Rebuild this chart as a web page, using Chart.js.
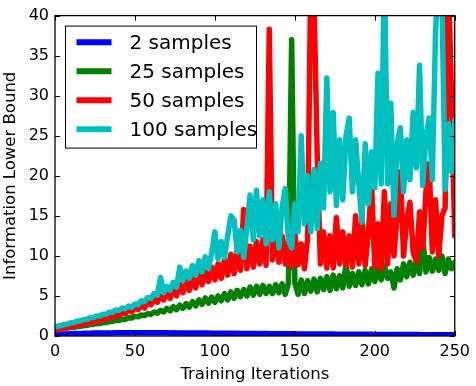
<!DOCTYPE html>
<html><head><meta charset="utf-8">
<script src="https://cdn.jsdelivr.net/npm/chart.js@4/dist/chart.umd.min.js"></script>
<style>html,body{margin:0;padding:0;background:#fff}#wrap{width:476px;height:386px}</style>
</head><body><div id="wrap"><canvas id="c" width="476" height="386"></canvas></div>
<script>
const iterations = [0,2,4,6,8,10,12,14,16,18,20,22,24,26,28,30,32,34,36,38,40,42,44,46,48,50,52,54,56,58,60,62,64,66,68,70,72,74,76,78,80,82,84,86,88,90,92,94,96,98,100,102,104,106,108,110,112,114,116,118,120,122,124,126,128,130,132,134,136,138,140,142,144,146,148,150,152,154,156,158,160,162,164,166,168,170,172,174,176,178,180,182,184,186,188,190,192,194,196,198,200,202,204,206,208,210,212,214,216,218,220,222,224,226,228,230,232,234,236,238,240,242,244,246,248,250];
const seriesLabels = ['2 samples','25 samples','50 samples','100 samples'];
const s2 = [0.18,0.20,0.22,0.24,0.26,0.28,0.30,0.31,0.32,0.33,
 0.34,0.35,0.36,0.37,0.37,0.38,0.38,0.39,0.39,0.40,
 0.40,0.40,0.41,0.41,0.41,0.42,0.41,0.42,0.41,0.42,
 0.41,0.41,0.40,0.41,0.40,0.40,0.39,0.40,0.39,0.39,
 0.38,0.38,0.38,0.37,0.37,0.37,0.36,0.36,0.36,0.35,
 0.35,0.35,0.34,0.34,0.34,0.33,0.33,0.33,0.32,0.32,
 0.32,0.31,0.31,0.31,0.30,0.30,0.30,0.29,0.29,0.29,
 0.28,0.28,0.28,0.27,0.27,0.27,0.26,0.26,0.26,0.26,
 0.25,0.25,0.25,0.25,0.24,0.24,0.24,0.24,0.23,0.23,
 0.23,0.23,0.22,0.22,0.22,0.22,0.21,0.21,0.21,0.21,
 0.20,0.20,0.20,0.20,0.20,0.19,0.19,0.19,0.19,0.19,
 0.18,0.18,0.18,0.18,0.18,0.17,0.17,0.17,0.17,0.17,
 0.16,0.16,0.16,0.16,0.16,0.15];
const s25 = [0.80,0.88,0.90,0.98,1.00,1.08,1.10,1.18,1.22,1.30,
 1.32,1.42,1.44,1.55,1.56,1.66,1.68,1.80,1.82,1.94,
 1.95,2.10,2.10,2.28,2.25,2.45,2.40,2.62,2.55,2.80,
 2.70,3.00,2.85,3.20,3.00,3.45,3.15,3.65,3.30,3.85,
 3.45,4.05,3.60,4.30,3.75,4.50,3.95,4.75,4.10,4.85,
 4.20,5.00,4.40,5.30,4.50,5.50,4.70,5.70,4.90,5.80,
 5.00,6.10,5.10,6.20,5.20,6.30,5.30,6.20,5.30,6.40,
 5.40,6.50,5.20,6.60,37.0,6.60,5.20,7.00,5.30,6.90,
 5.60,7.10,5.50,7.20,5.80,7.40,5.70,7.60,5.90,7.50,
 6.00,9.00,6.20,7.80,6.30,8.00,6.40,8.20,6.50,8.40,
 6.80,8.60,7.00,8.80,7.20,8.00,6.00,8.40,7.00,9.00,
 7.40,9.20,7.60,9.40,7.80,12.3,8.00,9.80,8.10,9.60,
 8.20,10.0,7.80,9.60,8.40,9.20];
const s50 = [0.70,0.85,0.90,1.05,1.05,1.20,1.22,1.35,1.40,1.52,
 1.55,1.70,1.72,1.90,1.90,2.10,2.08,2.35,2.30,2.60,
 2.55,2.90,2.80,3.30,3.00,3.60,3.30,3.90,3.50,4.30,
 3.90,4.60,4.20,5.00,4.50,5.60,4.70,6.00,5.00,6.40,
 5.40,6.80,5.70,7.30,6.00,7.80,6.40,8.30,6.80,8.60,
 7.00,9.00,7.20,9.60,7.60,10.2,7.80,10.8,8.20,15.8,
 8.40,11.2,8.60,11.8,9.00,12.0,8.80,38.3,9.50,13.0,
 9.20,12.5,9.00,12.0,8.60,12.8,8.90,11.5,8.40,12.2,
 46.0,42.0,22.5,9.00,13.0,8.50,12.5,8.50,14.8,9.00,
 13.0,8.80,12.5,8.60,15.0,9.00,14.5,8.80,13.0,19.0,
 8.60,14.0,8.40,18.0,9.00,16.5,10.0,15.0,20.5,10.0,
 14.5,16.7,10.5,9.30,15.5,11.0,18.0,21.5,10.5,17.0,
 10.0,15.0,16.0,45.0,30.0,12.5];
const s100 = [1.10,1.25,1.30,1.45,1.50,1.65,1.70,1.85,1.90,2.05,
 2.10,2.28,2.30,2.50,2.50,2.72,2.72,2.98,2.95,3.25,
 3.20,3.50,3.40,3.75,3.60,4.00,3.90,4.40,4.30,4.80,
 4.70,5.30,5.10,7.30,5.40,6.20,5.70,6.70,6.10,8.60,
 6.90,8.10,7.20,8.80,7.60,9.40,8.00,9.90,8.40,10.4,
 13.0,9.60,11.8,9.80,12.5,15.0,14.5,10.5,13.2,9.80,
 13.5,17.6,12.0,18.2,12.5,17.0,11.5,18.0,12.0,16.5,
 11.0,16.0,18.4,12.0,11.0,16.5,13.0,25.0,14.0,20.0,
 13.0,20.8,13.4,21.5,16.0,32.2,18.0,27.9,16.3,24.5,
 17.0,25.0,27.2,18.0,24.5,19.0,14.2,24.0,16.5,23.0,
 18.5,32.8,19.0,46.0,19.0,29.1,15.1,24.0,26.0,18.0,
 24.5,19.5,27.9,21.0,33.8,18.8,25.0,27.2,19.5,38.0,
 46.0,42.0,18.3,26.5,20.5,27.0];
const xTicks = [0,50,100,150,200,250];
const yTicks = [0,5,10,15,20,25,30,35,40];
const colors = ['#0000ff','#008000','#ff0000','#00bfbf'];

const allSeries = [s2, s25, s50, s100];
const datasets = allSeries.map((s, k) => ({
  label: seriesLabels[k],
  data: iterations.map((x, i) => ({x: x, y: s[i]})),
  borderColor: colors[k],
  backgroundColor: colors[k],
  borderWidth: 5.5,
  pointRadius: 0,
  tension: 0,
  fill: false,
  borderJoinStyle: 'round',
  borderCapStyle: 'round',
  order: 4 - k
}));

const FONT = '"DejaVu Sans", "Liberation Sans", sans-serif';
Chart.defaults.color = '#000';
Chart.defaults.font.family = FONT;

const framePlugin = {
  id: 'frame',
  afterDatasetsDraw(chart) {
    const ctx = chart.ctx, a = chart.chartArea, xs = chart.scales.x, ys = chart.scales.y;
    ctx.save();
    ctx.strokeStyle = '#000';
    ctx.lineWidth = 1;
    ctx.beginPath();
    xTicks.forEach(v => {
      const p = Math.round(xs.getPixelForValue(v)) + 0.5;
      ctx.moveTo(p, a.bottom); ctx.lineTo(p, a.bottom - 5);
      ctx.moveTo(p, a.top); ctx.lineTo(p, a.top + 5);
    });
    yTicks.forEach(v => {
      const p = Math.round(ys.getPixelForValue(v)) + 0.5;
      ctx.moveTo(a.left, p); ctx.lineTo(a.left + 5, p);
      ctx.moveTo(a.right, p); ctx.lineTo(a.right - 5, p);
    });
    ctx.stroke();
    ctx.lineWidth = 1.3;
    ctx.strokeRect(a.left, a.top, a.right - a.left, a.bottom - a.top);
    // legend
    const lx = a.left + 10.5, ly = a.top + 10.5, lw = 191, lh = 122;
    ctx.fillStyle = '#fff';
    ctx.fillRect(lx, ly, lw, lh);
    ctx.lineWidth = 1;
    ctx.strokeRect(lx, ly, lw, lh);
    ctx.font = '20px ' + FONT;
    ctx.textBaseline = 'middle';
    ctx.textAlign = 'left';
    chart.data.datasets.forEach((ds, i) => {
      const cy = ly + 16.2 + i * 29;
      ctx.strokeStyle = ds.borderColor;
      ctx.lineWidth = 6;
      ctx.lineCap = 'butt';
      ctx.beginPath();
      ctx.moveTo(lx + 11, cy); ctx.lineTo(lx + 46, cy);
      ctx.stroke();
      ctx.fillStyle = '#000';
      ctx.fillText(ds.label, lx + 64, cy + 1);
    });
    ctx.restore();
  }
};

new Chart(document.getElementById('c'), {
  type: 'line',
  data: { datasets: datasets },
  options: {
    responsive: false,
    animation: false,
    devicePixelRatio: 1,
    layout: { padding: { top: 12, right: 18, left: 0, bottom: 0 } },
    plugins: { legend: { display: false }, tooltip: { enabled: false } },
    scales: {
      x: {
        type: 'linear', min: 0, max: 250,
        grid: { display: false, drawTicks: false },
        border: { display: false },
        ticks: { font: { size: 16 }, padding: 6, maxRotation: 0, color: '#000' },
        afterBuildTicks: s => { s.ticks = xTicks.map(v => ({value: v})); },
        afterFit: s => { s.height = 50; },
        title: { display: true, text: 'Training Iterations', font: { size: 16.5 }, padding: { top: 0, bottom: 1 }, color: '#000' }
      },
      y: {
        type: 'linear', min: 0, max: 40,
        grid: { display: false, drawTicks: false },
        border: { display: false },
        ticks: { font: { size: 16 }, padding: 6, color: '#000' },
        afterBuildTicks: s => { s.ticks = yTicks.map(v => ({value: v})); },
        afterFit: s => { s.width = 55; },
        title: { display: true, text: 'Information Lower Bound', font: { size: 16.5 }, padding: { top: 1, bottom: 0 }, color: '#000' }
      }
    }
  },
  plugins: [framePlugin]
});
</script></body></html>
